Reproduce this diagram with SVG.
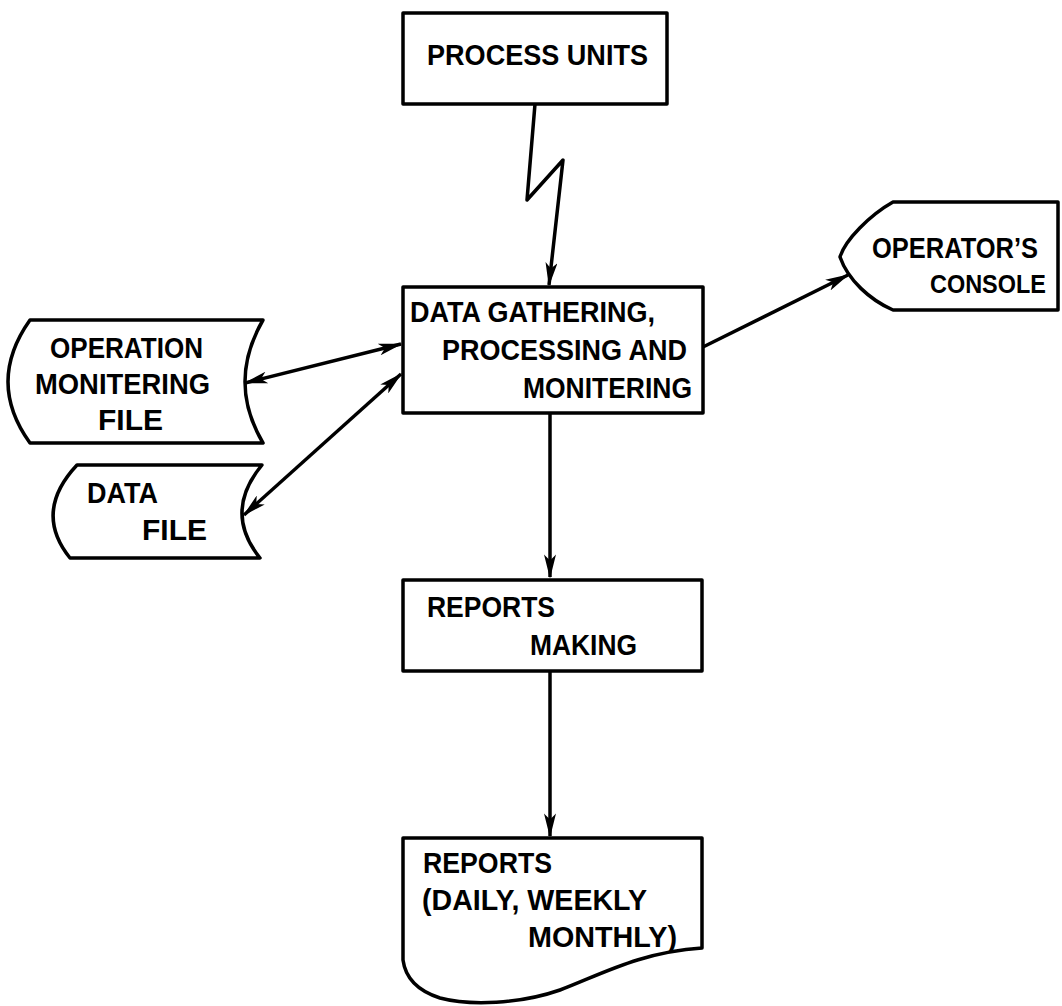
<svg xmlns="http://www.w3.org/2000/svg" width="1062" height="1006" viewBox="0 0 1062 1006">
<defs>
<style>
.shape{fill:#fff;stroke:#000;stroke-width:3.5;stroke-linejoin:round}
.lbl{font-family:"Liberation Sans",Arial,sans-serif;font-weight:bold;font-size:29px;fill:#000}
.sm{font-size:26px}
.conn{fill:none;stroke:#000;stroke-width:3.5;stroke-linejoin:round}
</style>
<marker id="ah" viewBox="0 0 16 8" refX="15" refY="4" markerWidth="26" markerHeight="12" markerUnits="userSpaceOnUse" orient="auto-start-reverse">
<path d="M0,0 L16,4 L0,8 L4,4 Z" fill="#000"/>
</marker>
</defs>
<rect width="1062" height="1006" fill="#fff"/>

<g id="connectors">
<polyline class="conn" points="535,104 527,200 563,160 549,285" marker-end="url(#ah)"/>
<line class="conn" x1="245" y1="383" x2="401" y2="344" marker-start="url(#ah)" marker-end="url(#ah)"/>
<line class="conn" x1="244" y1="515" x2="401" y2="374" marker-start="url(#ah)" marker-end="url(#ah)"/>
<line class="conn" x1="703" y1="347" x2="848" y2="275" marker-end="url(#ah)"/>
<line class="conn" x1="550" y1="413" x2="550" y2="577" marker-end="url(#ah)"/>
<line class="conn" x1="550" y1="671" x2="550" y2="836" marker-end="url(#ah)"/>
</g>

<g id="process-units">
<rect class="shape" x="403" y="13" width="264" height="91"/>
<text class="lbl" x="427" y="65" textLength="221" lengthAdjust="spacingAndGlyphs">PROCESS UNITS</text>
</g>

<g id="data-gathering">
<rect class="shape" x="403" y="287" width="300" height="126"/>
<text class="lbl" x="410" y="322" textLength="245" lengthAdjust="spacingAndGlyphs">DATA GATHERING,</text>
<text class="lbl" x="442" y="360" textLength="245" lengthAdjust="spacingAndGlyphs">PROCESSING AND</text>
<text class="lbl" x="523" y="398" textLength="169" lengthAdjust="spacingAndGlyphs">MONITERING</text>
</g>

<g id="operators-console">
<path class="shape" d="M893,202 L1058,202 L1058,310 L893,310 C870,300 848,280 840,257 C845,240 870,215 893,202 Z"/>
<text class="lbl" x="872" y="258" font-size="27" textLength="166" lengthAdjust="spacingAndGlyphs">OPERATOR’S</text>
<text class="lbl sm" x="930" y="293" textLength="116" lengthAdjust="spacingAndGlyphs">CONSOLE</text>
</g>

<g id="operation-monitering-file">
<path class="shape" d="M30,320 L263,320 Q227,382 263,443 L30,443 Q-14,382 30,320 Z"/>
<text class="lbl" x="50" y="358" textLength="153" lengthAdjust="spacingAndGlyphs">OPERATION</text>
<text class="lbl" x="35" y="394" textLength="175" lengthAdjust="spacingAndGlyphs">MONITERING</text>
<text class="lbl" x="98" y="430" textLength="65" lengthAdjust="spacingAndGlyphs">FILE</text>
</g>

<g id="data-file">
<path class="shape" d="M77,465 L262,465 Q223,512 260,558 L70,558 Q33,512 77,465 Z"/>
<text class="lbl" x="87" y="503" textLength="71" lengthAdjust="spacingAndGlyphs">DATA</text>
<text class="lbl" x="142" y="540" textLength="65" lengthAdjust="spacingAndGlyphs">FILE</text>
</g>

<g id="reports-making">
<rect class="shape" x="403" y="580" width="299" height="91"/>
<text class="lbl" x="427" y="617" textLength="128" lengthAdjust="spacingAndGlyphs">REPORTS</text>
<text class="lbl" x="530" y="655" textLength="107" lengthAdjust="spacingAndGlyphs">MAKING</text>
</g>

<g id="reports">
<path class="shape" d="M403,838 L702,838 L702,948 C640,952 600,975 560,990 C520,1004 470,1006 440,998 C415,990 405,975 403,960 Z"/>
<text class="lbl" x="423" y="873" textLength="129" lengthAdjust="spacingAndGlyphs">REPORTS</text>
<text class="lbl" x="422" y="910" textLength="225" lengthAdjust="spacingAndGlyphs">(DAILY, WEEKLY</text>
<text class="lbl" x="528" y="947" textLength="149" lengthAdjust="spacingAndGlyphs">MONTHLY)</text>
</g>
</svg>
